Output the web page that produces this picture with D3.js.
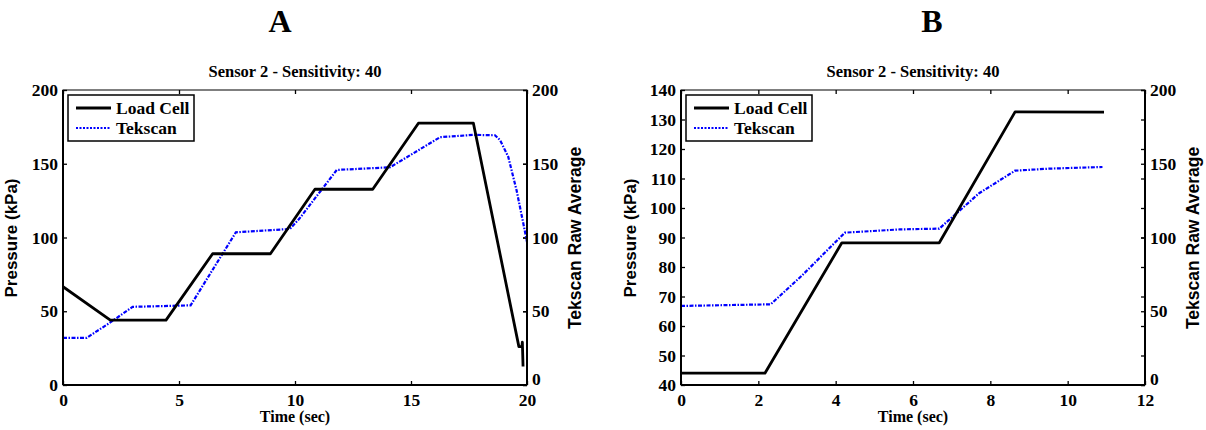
<!DOCTYPE html>
<html>
<head>
<meta charset="utf-8">
<script src="https://cdn.jsdelivr.net/npm/d3@7"></script>
<style>
  body { margin: 0; background: #fff; }
  svg text { fill: #000; }
  .serif { font-family: "Liberation Serif", "Times New Roman", serif; font-weight: bold; }
  .sans { font-family: "Liberation Sans", Arial, sans-serif; font-weight: bold; }
</style>
</head>
<body>
<svg id="viz" width="1206" height="430"></svg>
<script>
"use strict";
// panel A (0-20 s)
const timeLoadA = [0, 2.04, 4.44, 6.45, 8.94, 10.86, 13.35, 15.32, 17.69, 19.65, 19.78, 19.8, 19.83];
const loadA     = [66.6, 44, 44, 89, 89, 132.7, 132.7, 177.5, 177.5, 26, 26, 29, 12.5];
const timeTekA  = [0, 1.02, 2.0, 3.0, 5.5, 7.45, 9.78, 10.2, 11.8, 14.1, 16.25, 17.7, 18.62, 18.84, 19.19, 19.55, 19.84, 20];
const tekA      = [32, 32, 42, 53, 54, 103.5, 105.8, 113, 145.8, 147.6, 168, 169.6, 169.3, 166, 154.8, 132, 109.6, 97];
// panel B (0-11 s)
const timeLoadB = [0, 2.17, 4.16, 6.68, 8.64, 10.94];
const loadB     = [44, 44, 88.2, 88.2, 132.6, 132.5];
const timeTekB  = [0, 2.32, 3.12, 4.24, 5.66, 6.68, 7.71, 8.64, 9.54, 10.9];
const tekB      = [53.6, 54.7, 74, 103.3, 105.5, 106, 130, 145.3, 146.7, 147.8];

const ticksXA = [0, 5, 10, 15, 20];
const ticksXB = [0, 2, 4, 6, 8, 10, 12];
const ticksLeftA = [0, 50, 100, 150, 200];
const ticksLeftB = [40, 50, 60, 70, 80, 90, 100, 110, 120, 130, 140];
const ticksRight = [0, 50, 100, 150, 200];

const svg = d3.select("#viz");
const top_ = 90, bottom = 385;

function drawPanel(p) {
  const g = svg.append("g");
  const x = d3.scaleLinear().domain(p.xDomain).range([p.left, p.right]);
  const yL = d3.scaleLinear().domain(p.yDomain).range([bottom, top_]);
  const yR = d3.scaleLinear().domain([0, 200]).range([bottom, top_]);
  const mid = (p.left + p.right) / 2;

  // panel letter and title
  g.append("text").attr("class", "serif").attr("x", mid + p.letterShift).attr("y", 32)
    .attr("text-anchor", "middle").style("font-size", "32px").text(p.letter);
  g.append("text").attr("class", "serif").attr("x", mid).attr("y", 77)
    .attr("text-anchor", "middle").style("font-size", "16.5px").text("Sensor 2 - Sensitivity: 40");

  // axes, ticks pointing inward
  const axisStyle = sel => {
    sel.select(".domain").remove();
    sel.selectAll("line").attr("stroke", "#000").attr("stroke-width", 1.3);
    sel.selectAll("text").attr("class", "serif").style("font-size", "17.5px").attr("fill", "#000");
  };
  g.append("g").attr("transform", `translate(0,${bottom})`)
    .call(d3.axisBottom(x).tickValues(p.ticksX).tickSize(-4).tickPadding(9).tickFormat(d3.format("d")))
    .call(axisStyle);
  g.append("g").attr("transform", `translate(0,${top_})`)
    .call(d3.axisTop(x).tickValues(p.ticksX).tickSize(-4).tickFormat(""))
    .call(axisStyle);
  g.append("g").attr("transform", `translate(${p.left},0)`)
    .call(d3.axisLeft(yL).tickValues(p.ticksLeft).tickSize(-4).tickPadding(5).tickFormat(d3.format("d")))
    .call(axisStyle);
  g.append("g").attr("transform", `translate(${p.right},0)`)
    .call(d3.axisLeft(yL).tickValues(p.ticksLeft).tickSize(4).tickFormat(""))
    .call(axisStyle);
  g.append("g").attr("transform", `translate(${p.right},0)`)
    .call(d3.axisRight(yR).tickValues(ticksRight).tickSize(-4).tickPadding(5).tickFormat(d3.format("d")))
    .call(axisStyle)
    .call(sel => sel.selectAll("text").filter(d => d === 0).attr("dy", "-0.05em"));

  // data lines
  const clipId = "clip" + p.letter;
  g.append("clipPath").attr("id", clipId).append("rect")
    .attr("x", p.left).attr("y", top_).attr("width", p.right - p.left).attr("height", bottom - top_);
  const lineL = d3.line().x(d => x(d[0])).y(d => yL(d[1]));
  const lineR = d3.line().x(d => x(d[0])).y(d => yR(d[1]));
  g.append("path").datum(d3.zip(p.timeTek, p.tek)).attr("clip-path", `url(#${clipId})`)
    .attr("d", lineR).attr("fill", "none").attr("stroke", "#0000ff").attr("stroke-width", 2.2)
    .attr("stroke-dasharray", "4,1.5,1.5,1.5");
  g.append("path").datum(d3.zip(p.timeLoad, p.load)).attr("clip-path", `url(#${clipId})`)
    .attr("d", lineL).attr("fill", "none").attr("stroke", "#000").attr("stroke-width", 2.8)
    .attr("stroke-linejoin", "round");

  // frame
  g.append("rect").attr("x", p.left).attr("y", top_).attr("width", p.right - p.left).attr("height", bottom - top_)
    .attr("fill", "none").attr("stroke", "#000").attr("stroke-width", 1);
  g.append("line").attr("x1", p.left).attr("x2", p.left).attr("y1", top_).attr("y2", bottom).attr("stroke", "#000").attr("stroke-width", 2);
  g.append("line").attr("x1", p.right).attr("x2", p.right).attr("y1", top_).attr("y2", bottom).attr("stroke", "#000").attr("stroke-width", 2);
  g.append("line").attr("x1", p.left).attr("x2", p.right).attr("y1", bottom).attr("y2", bottom).attr("stroke", "#000").attr("stroke-width", 2);

  // axis labels
  g.append("text").attr("class", "serif").attr("x", mid).attr("y", 422)
    .attr("text-anchor", "middle").style("font-size", "16px").text("Time (sec)");
  g.append("text").attr("class", "sans").attr("transform", `translate(${p.left - p.ylabelGap},238) rotate(-90)`)
    .attr("text-anchor", "middle").style("font-size", "17px").text("Pressure (kPa)");
  g.append("text").attr("class", "sans").attr("transform", `translate(${p.right + 54},238) rotate(-90)`)
    .attr("text-anchor", "middle").style("font-size", "17.5px").text("Tekscan Raw Average");

  // legend
  const lx = p.left + 5, ly = 95;
  g.append("rect").attr("x", lx).attr("y", ly).attr("width", 126).attr("height", 46)
    .attr("fill", "#fff").attr("stroke", "#000").attr("stroke-width", 1.5);
  g.append("line").attr("x1", lx + 8).attr("x2", lx + 43).attr("y1", ly + 13).attr("y2", ly + 13)
    .attr("stroke", "#000").attr("stroke-width", 2.8);
  g.append("line").attr("x1", lx + 8).attr("x2", lx + 43).attr("y1", ly + 33).attr("y2", ly + 33)
    .attr("stroke", "#0000ff").attr("stroke-width", 2.2).attr("stroke-dasharray", "2,1.5");
  g.append("text").attr("class", "serif").attr("x", lx + 48).attr("y", ly + 19).style("font-size", "17.5px").text("Load Cell");
  g.append("text").attr("class", "serif").attr("x", lx + 48).attr("y", ly + 39).style("font-size", "17.5px").text("Tekscan");
}

drawPanel({ letter: "A", left: 63, right: 527, xDomain: [0, 20], yDomain: [0, 200],
  ticksX: ticksXA, ticksLeft: ticksLeftA, letterShift: -15, ylabelGap: 46,
  timeLoad: timeLoadA, load: loadA, timeTek: timeTekA, tek: tekA });
drawPanel({ letter: "B", left: 681, right: 1145, xDomain: [0, 12], yDomain: [40, 140],
  ticksX: ticksXB, ticksLeft: ticksLeftB, letterShift: 19, ylabelGap: 45,
  timeLoad: timeLoadB, load: loadB, timeTek: timeTekB, tek: tekB });
</script>
</body>
</html>
